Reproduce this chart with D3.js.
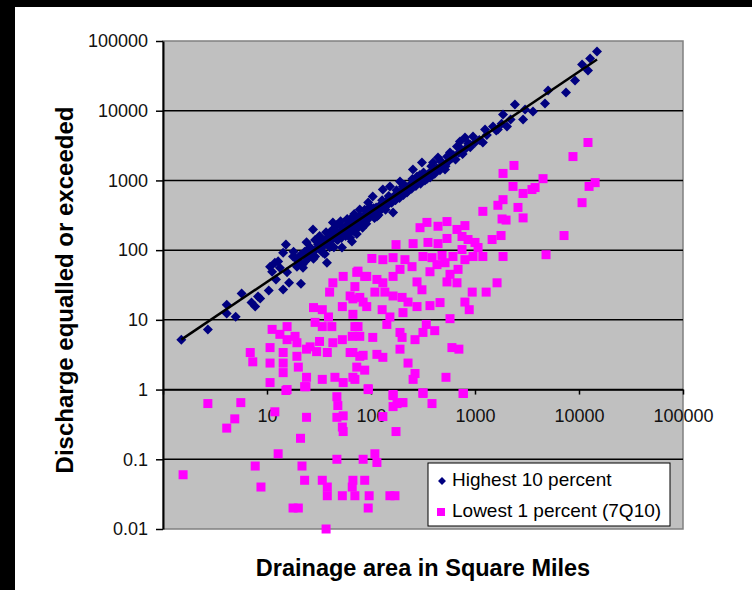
<!DOCTYPE html>
<html>
<head>
<meta charset="utf-8">
<script src="https://cdn.jsdelivr.net/npm/d3@7"></script>
<style>
  body { margin: 0; background: #fff; }
  svg text { font-family: "Liberation Sans", Arial, sans-serif; }
</style>
</head>
<body>
<div id="chart"></div>
<script>
// drainage area vs discharge, log-log scatter with a power trendline

var seriesNames = ["Highest 10 percent", "Lowest 1 percent (7Q10)"];

var yTickValues = [0.01, 0.1, 1, 10, 100, 1000, 10000, 100000];
var yTickLabels = ["0.01", "0.1", "1", "10", "100", "1000", "10000", "100000"];
var xTickValues = [1, 10, 100, 1000, 10000, 100000];
var xTickLabels = ["", "10", "100", "1000", "10000", "100000"];

// [drainage area, discharge]
var highest = [
  [1.5, 5.2], [2.7, 7.3], [4.1, 16.5], [4.1, 12.3], [5.0, 11.1], [5.7, 23.8], [7.1, 17.7], [7.7, 15.5],
  [8.2, 21.6], [8.6, 20.2], [10.4, 26.3], [12.2, 37.8], [14.3, 27.2], [14.3, 92], [15.2, 120], [10.7, 58],
  [11.2, 49], [11.9, 66], [12.8, 69], [13.3, 56], [15.6, 48], [16.3, 34], [17.8, 81], [19.4, 58],
  [21.2, 33], [22.2, 56], [24.2, 73], [24.8, 102], [27.7, 198], [29, 81], [31, 120], [34.5, 92],
  [37.7, 66], [40.3, 179], [43, 249], [47, 142], [52.6, 109], [65.6, 133], [67, 198], [75, 257],
  [67, 303], [78, 382], [94, 482], [104, 588], [114, 303], [130, 740], [152, 817], [163, 347],
  [190, 964], [203, 817], [222, 670], [253, 1430], [277, 1140], [309, 1810], [369, 1300], [395, 1810],
  [441, 2130], [515, 1430], [575, 2510], [671, 3060], [717, 3610], [801, 4120], [895, 3270], [957, 4260],
  [1190, 3500], [1250, 5370], [1490, 5930], [1660, 5370], [1860, 8820], [2030, 5930], [2420, 12300], [2900, 7480],
  [3030, 10400], [3610, 9730], [4710, 12700], [5040, 19500], [7500, 18200], [9160, 27100], [10700, 46000], [12200, 37700],
  [12800, 56100], [14900, 70700],
  [20, 70], [21, 85], [22, 62], [23, 95], [25, 78], [26, 110], [27, 90], [28, 75], [30, 105], [31, 130],
  [33, 98], [34, 140], [35, 115], [36, 88], [38, 150], [39, 120], [41, 135], [42, 165], [44, 110], [45, 160],
  [46, 190], [48, 140], [50, 175], [52, 150], [53, 210], [55, 180], [57, 160], [58, 230], [60, 200], [62, 175],
  [64, 240], [66, 215], [68, 190], [70, 260], [72, 230], [74, 205], [76, 280], [79, 250], [82, 300], [85, 270],
  [88, 320], [90, 240], [93, 350], [96, 300], [100, 370], [104, 330], [108, 290], [112, 410], [116, 360], [120, 430],
  [125, 380], [130, 470], [135, 420], [140, 500], [146, 450], [152, 540], [158, 480], [165, 590], [172, 520], [180, 640],
  [188, 560], [196, 700], [205, 620], [215, 780], [225, 700], [235, 850], [246, 760], [258, 920], [270, 830], [285, 1000],
  [300, 900], [315, 1100], [330, 1000], [350, 1220], [370, 1100], [390, 1350], [410, 1250], [430, 1500], [460, 1400], [490, 1700],
  [520, 1600], [560, 1900], [600, 2100], [650, 2000], [700, 2500], [760, 2400], [820, 2900], [900, 3000], [1000, 3500], [1100, 3800],
  [1300, 4500], [1600, 5200], [1800, 6500], [2200, 7500],
  [18, 95], [19, 75], [24, 130], [29, 140], [32, 160], [37, 180], [40, 110], [43, 200], [47, 230], [51, 260],
  [56, 210], [59, 280], [63, 150], [69, 330], [73, 170], [77, 310], [83, 210], [87, 380], [92, 270], [98, 420],
  [106, 400], [118, 320], [128, 520], [138, 380], [148, 600], [160, 560], [176, 720], [192, 640], [210, 860], [230, 740],
  [250, 1050], [275, 950], [295, 1200], [320, 1300], [345, 1050], [380, 1600], [420, 1400], [470, 1900], [540, 2200], [620, 2300],
  [740, 2800], [860, 3400]
];

var lowest = [
  [8750, 2200], [2370, 1640], [1860, 1260], [4510, 1060], [2320, 820], [2900, 650], [3530, 740], [3780, 790],
  [14300, 930], [12500, 820], [10700, 480], [1860, 530], [1660, 440], [1190, 360], [2590, 410], [2900, 290],
  [1820, 280], [1990, 270], [1460, 142], [1780, 162], [7180, 162], [4820, 86], [1860, 81], [1190, 81],
  [1630, 34], [1280, 25], [940, 25], [800, 18], [880, 14], [575, 10.4], [410, 7.0], [340, 8.6],
  [316, 6.6], [265, 5.2], [600, 4.0], [700, 3.8], [227, 2.4], [265, 1.7], [254, 1.4], [526, 1.5],
  [94, 1.03], [316, 0.9], [770, 0.88], [163, 0.82], [12200, 3500],
  [345, 250], [296, 210], [441, 220], [538, 257], [671, 198], [800, 225], [750, 157], [857, 142],
  [1000, 129], [1070, 109], [353, 129], [441, 124], [538, 147], [254, 124], [174, 120], [102, 76],
  [130, 73], [163, 78], [212, 73], [316, 81], [386, 78], [482, 84], [614, 81], [750, 102],
  [800, 73], [957, 81], [73, 48], [91, 42], [114, 38], [130, 34], [163, 42], [190, 53],
  [248, 58], [277, 35], [309, 27], [369, 49], [431, 62], [515, 66], [575, 45], [538, 35],
  [671, 34], [687, 53], [109, 25], [136, 25], [163, 22], [199, 21], [227, 18], [277, 15.5],
  [369, 16], [461, 17.7], [63, 22], [78, 21], [91, 15.5], [128, 14], [152, 11], [203, 12.7],
  [70, 8.0], [78, 5.8], [104, 5.6], [142, 8.6], [190, 6.6], [199, 5.6], [67, 3.4], [84, 3.1],
  [114, 3.2], [130, 2.9], [190, 3.8], [73, 2.1], [87, 1.9], [70, 1.4],
  [54, 42], [43, 34], [75, 50], [87, 42], [70, 30], [40, 25], [67, 20], [84, 18],
  [53, 15.5], [67, 12], [28, 15], [34, 14], [39, 11], [29, 9.2], [34, 8.0], [42, 8.0],
  [75, 8.0], [11.2, 7.3], [15.6, 8.0], [13.3, 6.2], [18.6, 5.8], [15.6, 5.2], [19.4, 4.7], [26, 4.1],
  [32, 4.9], [43, 4.7], [53, 5.2], [66, 5.8], [6.9, 3.4], [7.3, 2.5], [10.7, 4.0], [14.3, 3.4],
  [14.3, 2.4], [19.4, 3.0], [24, 3.8], [30, 3.5], [38, 3.4], [63, 3.4], [78, 3.0], [10.7, 2.4],
  [20, 2.1], [24, 1.5], [14.3, 1.75], [10.7, 1.26], [15.6, 1.0], [23, 1.1], [34, 1.4], [45, 1.5],
  [54, 1.26], [67, 1.5],
  [2.7, 0.63], [5.6, 0.65], [4.9, 0.38], [4.1, 0.28], [11.9, 0.48], [15.2, 0.97], [23.7, 1.1], [24, 0.4],
  [21, 0.2], [12.8, 0.12], [7.7, 0.08], [8.75, 0.04], [1.56, 0.06], [21.7, 0.08], [23, 0.05], [34, 0.05],
  [38, 0.04], [38, 0.03], [17.8, 0.02], [20, 0.02], [37, 0.01], [47, 0.79], [48, 0.59], [47, 0.4],
  [54, 0.42], [53, 0.29], [54, 0.25], [47, 0.1], [67, 0.05], [66, 0.04], [70, 0.03], [53, 0.03],
  [87, 0.05], [96, 0.03], [94, 0.02], [84, 0.1], [109, 0.12], [114, 0.09], [94, 1.0], [163, 0.85],
  [178, 0.63], [203, 0.65], [163, 0.57], [130, 0.41], [174, 0.25], [316, 0.88], [152, 0.03], [170, 0.03],
  [199, 0.65], [386, 0.63], [770, 0.88]
];

// power trendline through the highest-flow series, end points
var trendArea = [1.5, 14900];
var trendDischarge = [5.2, 54300];

(function() {
  var margin = { top: 41, left: 163, right: 69, bottom: 61 },
    height = 590 - margin.top - margin.bottom,
    width = 752 - margin.left - margin.right;

  var svg = d3.select("#chart")
    .append("svg")
    .attr("width", 752)
    .attr("height", 590);

  // black frame of the screenshot
  svg.append("rect").attr("x", 0).attr("y", 0).attr("width", 752).attr("height", 7).attr("fill", "#000");
  svg.append("rect").attr("x", 0).attr("y", 0).attr("width", 15).attr("height", 590).attr("fill", "#000");

  var g = svg.append("g")
    .attr("transform", "translate(" + margin.left + "," + margin.top + ")");

  var xPositionScale = d3.scaleLog().domain([1, 100000]).range([0, width]);
  var yPositionScale = d3.scaleLog().domain([0.01, 100000]).range([height, 0]);

  g.append("rect")
    .attr("width", width)
    .attr("height", height)
    .attr("fill", "#c0c0c0")
    .attr("stroke", "#808080")
    .attr("stroke-width", 1.5);

  // gridlines
  g.selectAll(".grid")
    .data(yTickValues.slice(1, -1))
    .enter().append("line")
    .attr("class", "grid")
    .attr("x1", 0)
    .attr("x2", width)
    .attr("y1", function(d) { return yPositionScale(d); })
    .attr("y2", function(d) { return yPositionScale(d); })
    .attr("stroke", "#000")
    .attr("stroke-width", 1.5);

  var yAxis = d3.axisLeft(yPositionScale)
    .tickValues(yTickValues)
    .tickFormat(function(d, i) { return yTickLabels[i]; })
    .tickSizeInner(7)
    .tickSizeOuter(0)
    .tickPadding(8);

  var ya = g.append("g").attr("class", "y axis").call(yAxis);
  ya.select(".domain").attr("stroke", "#000").attr("stroke-width", 2);
  ya.selectAll(".tick line").attr("stroke", "#000").attr("stroke-width", 1.5);
  ya.selectAll("text").attr("font-size", "18px").attr("fill", "#111");

  var xAxis = d3.axisBottom(xPositionScale)
    .tickValues(xTickValues)
    .tickFormat(function(d, i) { return xTickLabels[i]; })
    .tickSizeInner(5)
    .tickSizeOuter(0)
    .tickPadding(15);

  var xa = g.append("g")
    .attr("class", "x axis")
    .attr("transform", "translate(0," + yPositionScale(1) + ")")
    .call(xAxis);
  xa.select(".domain").attr("stroke", "#000").attr("stroke-width", 1.5);
  xa.selectAll(".tick line").attr("stroke", "#000").attr("stroke-width", 1.5);
  xa.selectAll("text").attr("font-size", "18px").attr("fill", "#111");

  var diamond = d3.symbol().type(d3.symbolDiamond2).size(64);

  g.selectAll(".high")
    .data(highest)
    .enter().append("path")
    .attr("class", "high")
    .attr("d", diamond)
    .attr("transform", function(d) {
      return "translate(" + xPositionScale(d[0]) + "," + yPositionScale(d[1]) + ")";
    })
    .attr("fill", "#000080");

  g.selectAll(".low")
    .data(lowest)
    .enter().append("rect")
    .attr("class", "low")
    .attr("x", function(d) { return xPositionScale(d[0]) - 4.5; })
    .attr("y", function(d) { return yPositionScale(d[1]) - 4.5; })
    .attr("width", 9)
    .attr("height", 9)
    .attr("fill", "#ff00ff");

  var trend = d3.line()
    .x(function(d) { return xPositionScale(d[0]); })
    .y(function(d) { return yPositionScale(d[1]); });

  g.append("path")
    .datum(trendArea.map(function(a, i) { return [a, trendDischarge[i]]; }))
    .attr("d", trend)
    .attr("fill", "none")
    .attr("stroke", "#000")
    .attr("stroke-width", 2.5);

  // legend
  var legend = svg.append("g").attr("transform", "translate(428,463)");
  legend.append("rect")
    .attr("width", 242)
    .attr("height", 63)
    .attr("fill", "#fff")
    .attr("stroke", "#000")
    .attr("stroke-width", 1);

  legend.append("path")
    .attr("d", d3.symbol().type(d3.symbolDiamond2).size(40))
    .attr("transform", "translate(14,18)")
    .attr("fill", "#000080");
  legend.append("rect")
    .attr("x", 9).attr("y", 45).attr("width", 8).attr("height", 8)
    .attr("fill", "#ff00ff");

  legend.selectAll(".ltext")
    .data(seriesNames)
    .enter().append("text")
    .attr("class", "ltext")
    .attr("x", 24)
    .attr("y", function(d, i) { return 23 + i * 31; })
    .attr("font-size", "19px")
    .text(function(d) { return d; });

  svg.append("text")
    .attr("transform", "translate(73,290) rotate(-90)")
    .attr("text-anchor", "middle")
    .attr("font-size", "24px")
    .attr("font-weight", "bold")
    .text("Discharge equalled or exceeded");

  svg.append("text")
    .attr("x", margin.left + width / 2)
    .attr("y", 576)
    .attr("text-anchor", "middle")
    .attr("font-size", "23.5px")
    .attr("font-weight", "bold")
    .text("Drainage area in Square Miles");
})();
</script>
</body>
</html>
